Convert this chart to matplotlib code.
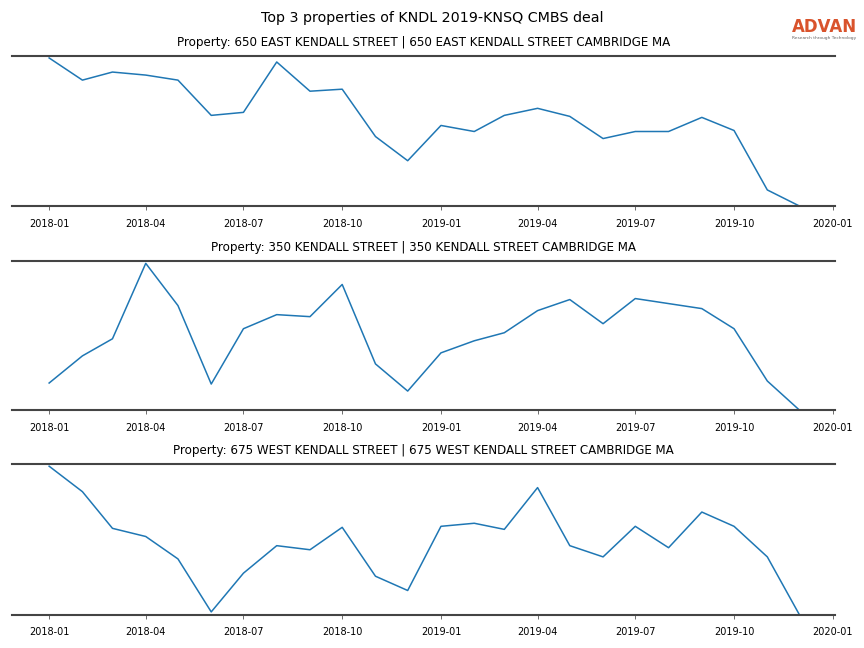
import matplotlib
matplotlib.use('Agg')
import matplotlib.pyplot as plt
import matplotlib.dates as mdates
import numpy as np
import pandas as pd

# monthly visit index for each property
months = pd.date_range('2018-01-01', '2019-12-01', freq='MS')

titles = ['Property: 650 EAST KENDALL STREET | 650 EAST KENDALL STREET CAMBRIDGE MA',
          'Property: 350 KENDALL STREET | 350 KENDALL STREET CAMBRIDGE MA',
          'Property: 675 WEST KENDALL STREET | 675 WEST KENDALL STREET CAMBRIDGE MA']

east_kendall = [148, 126, 134, 131, 126, 91, 94, 144, 115, 117, 70, 46,
                81, 75, 91, 98, 90, 68, 75, 75, 89, 76, 17, 1]
kendall_350 = [28, 55, 72, 147, 105, 27, 82, 96, 94, 126, 47, 20,
               58, 70, 78, 100, 111, 87, 112, 107, 102, 82, 30, 1]
west_kendall = [148, 123, 87, 79, 57, 5, 43, 70, 66, 88, 40, 26,
                89, 92, 86, 127, 70, 59, 89, 68, 103, 89, 59, 2]

series = [east_kendall, kendall_350, west_kendall]

fig = plt.figure(figsize=(8.64, 6.48), dpi=100)
fig.suptitle('Top 3 properties of KNDL 2019-KNSQ CMBS deal', fontsize=10.3, y=0.972,
             va='center')

boxes = [(0.914, 0.682), (0.597, 0.367), (0.284, 0.051)]
for i in range(3):
    top, bottom = boxes[i]
    ax = fig.add_axes([0.014, bottom, 0.953, top - bottom])
    ax.plot(months, series[i], color='#1f77b4', linewidth=1.1)
    lo, hi = min(series[i]), max(series[i])
    ax.set_ylim(lo, hi + 0.015 * (hi - lo))
    ax.set_title(titles[i], fontsize=8.6, pad=7)
    ax.set_yticks([])
    for s in ['left', 'right']:
        ax.spines[s].set_visible(False)
    for s in ['top', 'bottom']:
        ax.spines[s].set_color('#444444')
        ax.spines[s].set_linewidth(1.5)
    ax.xaxis.set_major_locator(mdates.MonthLocator(bymonth=[1, 4, 7, 10]))
    ax.xaxis.set_major_formatter(mdates.DateFormatter('%Y-%m'))
    ax.set_xlim(pd.Timestamp('2018-01-01') - pd.Timedelta(days=34.5),
                pd.Timestamp('2019-12-01') + pd.Timedelta(days=33.5))
    ax.tick_params(axis='x', labelsize=7, length=3, width=0.6, color='#555555', pad=6)

# logo
fig.text(0.9915, 0.958, 'ADVAN', color='#d9532c', fontsize=12, fontweight='bold',
         ha='right', va='center')
fig.text(0.9915, 0.941, 'Research through Technology', color='#666666', fontsize=3.2,
         ha='right', va='center')

plt.savefig('out.png', dpi=100)
